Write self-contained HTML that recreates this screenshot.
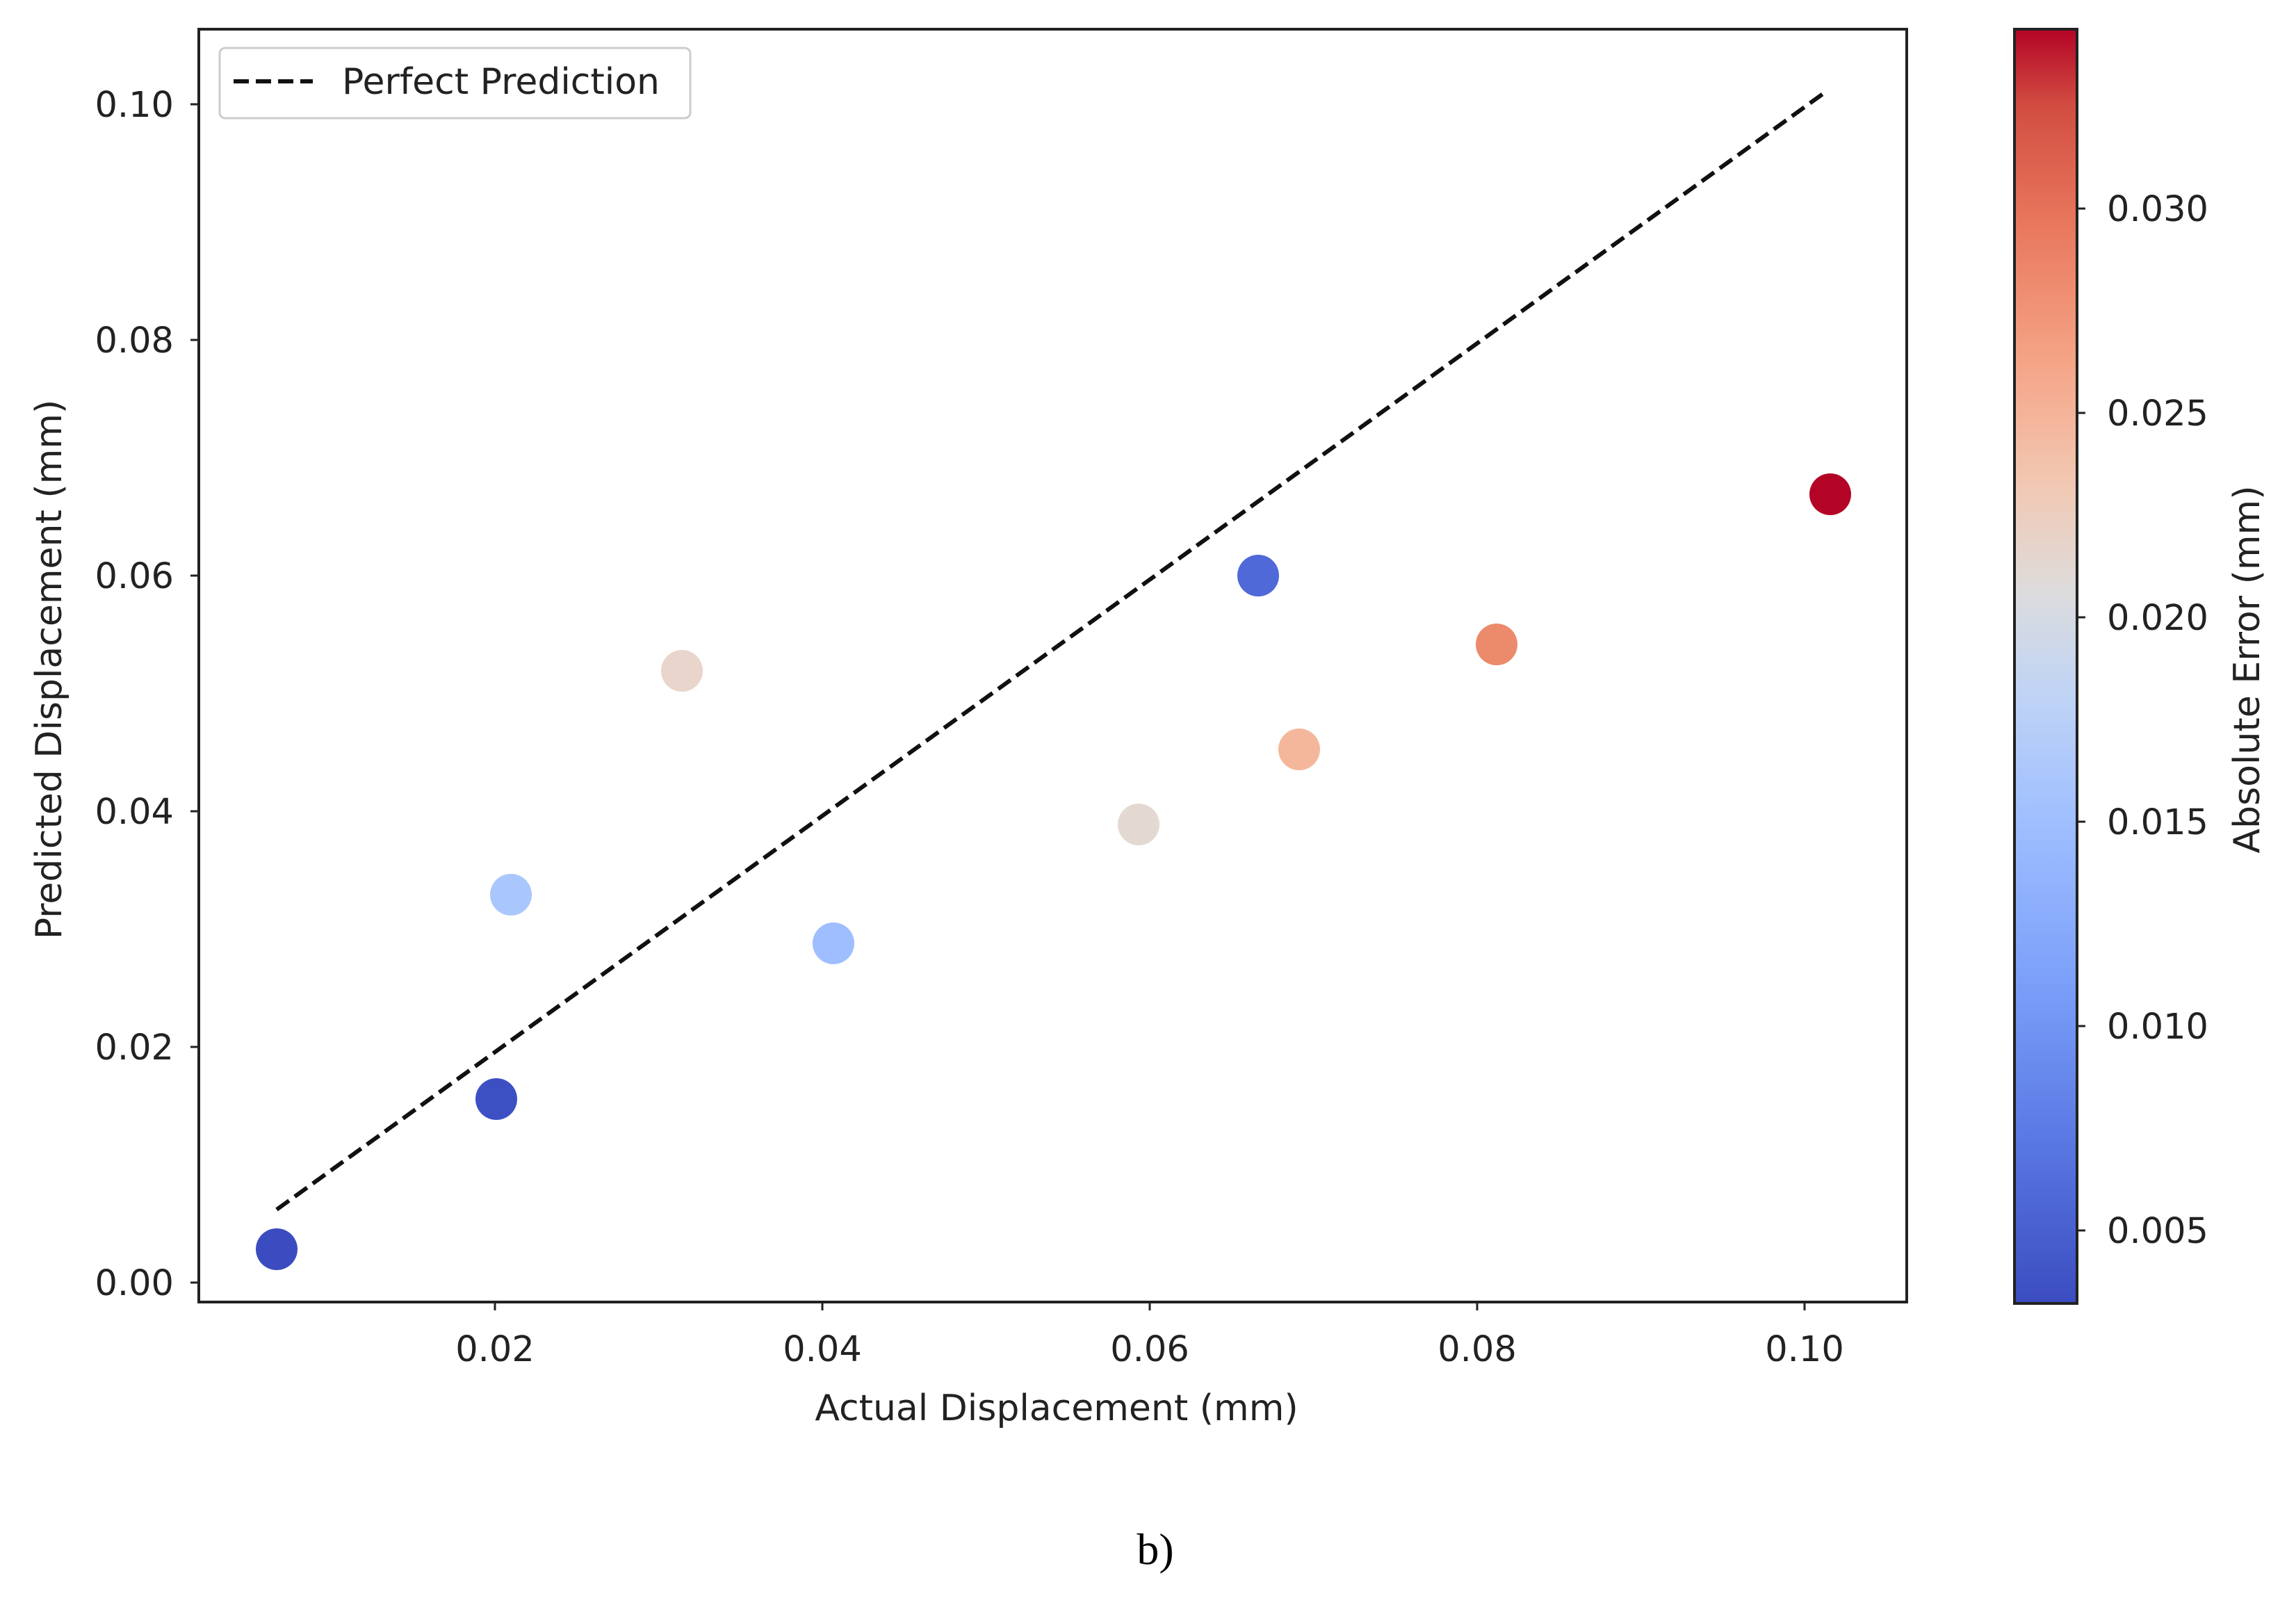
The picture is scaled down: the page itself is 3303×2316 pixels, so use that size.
<!DOCTYPE html>
<html><head><meta charset="utf-8"><style>html,body{margin:0;padding:0;background:#fff}</style></head>
<body>
<svg width="3303" height="2311" viewBox="0 0 3303 2311" xmlns="http://www.w3.org/2000/svg" font-family="'DejaVu Sans','Liberation Sans',sans-serif">
<defs>
<linearGradient id="cw" x1="0" y1="1" x2="0" y2="0">
<stop offset="0" stop-color="#3b4cc0"/>
<stop offset="0.125" stop-color="#5977e3"/>
<stop offset="0.25" stop-color="#7b9ff9"/>
<stop offset="0.375" stop-color="#9ebeff"/>
<stop offset="0.48" stop-color="#c0d4f5"/>
<stop offset="0.56" stop-color="#dddcdc"/>
<stop offset="0.64" stop-color="#f2c9b4"/>
<stop offset="0.74" stop-color="#f5a486"/>
<stop offset="0.85" stop-color="#e8765c"/>
<stop offset="0.94" stop-color="#d14d41"/>
<stop offset="1" stop-color="#b40426"/>
</linearGradient>
</defs>
<rect x="286" y="42" width="2457" height="1831" fill="#fff" stroke="#222" stroke-width="4"/>
<g stroke="#222" stroke-width="3">
<line x1="274" y1="150" x2="286" y2="150"/><line x1="274" y1="489" x2="286" y2="489"/>
<line x1="274" y1="828" x2="286" y2="828"/><line x1="274" y1="1167" x2="286" y2="1167"/>
<line x1="274" y1="1506" x2="286" y2="1506"/><line x1="274" y1="1845" x2="286" y2="1845"/>
<line x1="712" y1="1873" x2="712" y2="1885"/><line x1="1183" y1="1873" x2="1183" y2="1885"/>
<line x1="1654" y1="1873" x2="1654" y2="1885"/><line x1="2125" y1="1873" x2="2125" y2="1885"/>
<line x1="2596" y1="1873" x2="2596" y2="1885"/>
</g>
<g font-size="51" fill="#222" text-anchor="end">
<text x="250" y="168">0.10</text><text x="250" y="507">0.08</text><text x="250" y="846">0.06</text>
<text x="250" y="1185">0.04</text><text x="250" y="1524">0.02</text><text x="250" y="1863">0.00</text>
</g>
<g font-size="51" fill="#222" text-anchor="middle">
<text x="712" y="1958">0.02</text><text x="1183" y="1958">0.04</text><text x="1654" y="1958">0.06</text>
<text x="2125" y="1958">0.08</text><text x="2596" y="1958">0.10</text>
</g>
<text x="1520" y="2043" font-size="52" fill="#222" text-anchor="middle">Actual Displacement (mm)</text>
<text transform="translate(88,963) rotate(-90)" font-size="52" fill="#222" text-anchor="middle">Predicted Displacement (mm)</text>
<line x1="398" y1="1740" x2="2628" y2="131" stroke="#111" stroke-width="6" stroke-dasharray="22,10"/>
<g>
<circle cx="398" cy="1797" r="30" fill="#3b4cc0"/>
<circle cx="714" cy="1581" r="30" fill="#3d50c3"/>
<circle cx="735" cy="1287" r="30" fill="#aac7fd"/>
<circle cx="981" cy="965" r="30" fill="#e9d5cb"/>
<circle cx="1199" cy="1357" r="30" fill="#9ebeff"/>
<circle cx="1638" cy="1186" r="30" fill="#e4d9d2"/>
<circle cx="1810" cy="828" r="30" fill="#4f69d9"/>
<circle cx="1869" cy="1078" r="30" fill="#f5b79b"/>
<circle cx="2153" cy="927" r="30" fill="#ec8a6c"/>
<circle cx="2633" cy="711" r="30" fill="#b40426"/>
</g>
<rect x="316" y="69" width="677" height="101" rx="8" fill="#fff" stroke="#ccc" stroke-width="3"/>
<line x1="336" y1="117" x2="450" y2="117" stroke="#111" stroke-width="6" stroke-dasharray="22,10"/>
<text x="492" y="135" font-size="52" fill="#222">Perfect Prediction</text>
<rect x="2898" y="42" width="90" height="1833" fill="url(#cw)" stroke="#222" stroke-width="4"/>
<g stroke="#222" stroke-width="3">
<line x1="2988" y1="300" x2="3000" y2="300"/><line x1="2988" y1="594" x2="3000" y2="594"/>
<line x1="2988" y1="888" x2="3000" y2="888"/><line x1="2988" y1="1182" x2="3000" y2="1182"/>
<line x1="2988" y1="1476" x2="3000" y2="1476"/><line x1="2988" y1="1770" x2="3000" y2="1770"/>
</g>
<g font-size="51" fill="#222">
<text x="3031" y="318">0.030</text><text x="3031" y="612">0.025</text><text x="3031" y="906">0.020</text>
<text x="3031" y="1200">0.015</text><text x="3031" y="1494">0.010</text><text x="3031" y="1788">0.005</text>
</g>
<text transform="translate(3250,963) rotate(-90)" font-size="52" fill="#222" text-anchor="middle">Absolute Error (mm)</text>
<text x="1662" y="2250" font-size="64" fill="#000" text-anchor="middle" font-family="'Liberation Serif',serif">b)</text>
</svg>
</body></html>
